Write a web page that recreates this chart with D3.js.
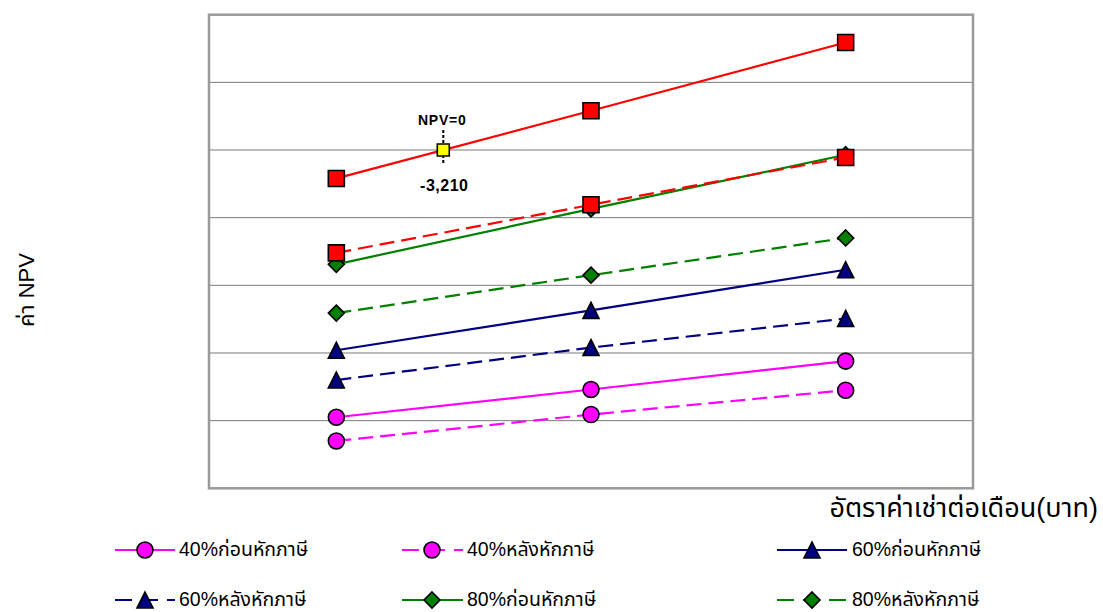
<!DOCTYPE html>
<html>
<head>
<meta charset="utf-8">
<script src="https://cdn.jsdelivr.net/npm/d3@7/dist/d3.min.js"></script>
<style>
  html, body { margin: 0; padding: 0; background: #fff; }
  svg { display: block; }
  text { font-family: "Liberation Sans", Arial, "Noto Sans Thai", Tahoma, sans-serif; }
</style>
</head>
<body>
<svg id="chart" width="1103" height="612"></svg>
<script>
// Monthly rent (baht) for each scenario column
const rents = [3000, 3500, 4000];

// NPV per scenario (million baht), one array per series
const npv40Before = [-3.95, -3.54, -3.12];
const npv40After  = [-4.30, -3.91, -3.55];
const npv60Before = [-2.96, -2.37, -1.77];
const npv60After  = [-3.40, -2.92, -2.49];
const npv80Before = [-1.69, -0.87, -0.07];
const npv80After  = [-2.41, -1.85, -1.30];
const npv100Before = [-0.42, 0.58, 1.59];
const npv100After  = [-1.52, -0.81, -0.11];

// Series names
const seriesNames = [
  "40%ก่อนหักภาษี", "40%หลังหักภาษี",
  "60%ก่อนหักภาษี", "60%หลังหักภาษี",
  "80%ก่อนหักภาษี", "80%หลังหักภาษี",
  "100%ก่อนหักภาษี", "100%หลังหักภาษี"
];
// Number of legend entries that fit on the page (two rows of three)
const legendCount = 6;

// Break-even point (NPV = 0)
const breakEvenRent = 3210;
const breakEvenNpv = 0;
const breakEvenLabel = "NPV=0";
const breakEvenValueLabel = "-3,210";

// Axis titles
const xTitle = "อัตราค่าเช่าต่อเดือน(บาท)";
const yTitle = "ค่า NPV";

// Gridline values on the NPV axis
const yGridValues = [-4, -3, -2, -1, 0, 1];

// ---- styling for each series ----
const seriesValues = [npv40Before, npv40After, npv60Before, npv60After,
                      npv80Before, npv80After, npv100Before, npv100After];
const DASH = "15,7";
const styles = [
  { color: "#FF00FF", dash: null, shape: "circle" },
  { color: "#FF00FF", dash: DASH, shape: "circle" },
  { color: "#000080", dash: null, shape: "triangle" },
  { color: "#000080", dash: DASH, shape: "triangle" },
  { color: "#008000", dash: null, shape: "diamond" },
  { color: "#008000", dash: DASH, shape: "diamond" },
  { color: "#FF0000", dash: null, shape: "square" },
  { color: "#FF0000", dash: DASH, shape: "square" }
];
const series = seriesNames.map((name, i) => ({ name, values: seriesValues[i], ...styles[i] }));

const svg = d3.select("#chart");
const plot = { left: 209, right: 973, top: 14.7, bottom: 488.3 };

const x = d3.scaleLinear().domain([2750, 4250]).range([plot.left, plot.right]);
const y = d3.scaleLinear().domain([-5, 2]).range([plot.bottom, plot.top]);

// Gridlines
svg.append("g").selectAll("line").data(yGridValues).join("line")
  .attr("x1", plot.left).attr("x2", plot.right)
  .attr("y1", d => y(d)).attr("y2", d => y(d))
  .attr("stroke", "#7a7a7a").attr("stroke-width", 1);

// Plot frame
svg.append("rect")
  .attr("x", plot.left).attr("y", plot.top)
  .attr("width", plot.right - plot.left).attr("height", plot.bottom - plot.top)
  .attr("fill", "none").attr("stroke", "#9a9a9a").attr("stroke-width", 2.5);

// Marker path generator
function markerPath(shape, s) {
  const h = s / 2;
  switch (shape) {
    case "square": return `M${-h},${-h}H${h}V${h}H${-h}Z`;
    case "diamond": return `M0,${-h}L${h},0L0,${h}L${-h},0Z`;
    case "triangle": return `M0,${-h}L${h},${h}L${-h},${h}Z`;
    default: return d3.arc()({ innerRadius: 0, outerRadius: h, startAngle: 0, endAngle: 2 * Math.PI });
  }
}
const markerSize = { square: 16, diamond: 16, triangle: 16, circle: 16 };

const line = d3.line().x((d, i) => x(rents[i])).y(d => y(d));

// Lines
svg.append("g").selectAll("path").data(series).join("path")
  .attr("d", d => line(d.values))
  .attr("fill", "none")
  .attr("stroke", d => d.color)
  .attr("stroke-width", 2.2)
  .attr("stroke-dasharray", d => d.dash);

// Markers
const mg = svg.append("g");
series.forEach(s => {
  mg.append("g").selectAll("path").data(s.values).join("path")
    .attr("transform", (d, i) => `translate(${x(rents[i])},${y(d)})`)
    .attr("d", markerPath(s.shape, markerSize[s.shape]))
    .attr("fill", s.color)
    .attr("stroke", "#000").attr("stroke-width", 1.6);
});

// Break-even annotation
const bx = x(breakEvenRent), by = y(breakEvenNpv);
const ann = svg.append("g");
ann.append("line").attr("x1", bx).attr("x2", bx).attr("y1", by - 20).attr("y2", by + 13)
  .attr("stroke", "#000").attr("stroke-width", 2).attr("stroke-dasharray", "3,2");
ann.append("path").attr("transform", `translate(${bx},${by})`)
  .attr("d", markerPath("square", 12)).attr("fill", "#FFFF00")
  .attr("stroke", "#000").attr("stroke-width", 1.6);
ann.append("text").attr("x", bx - 1).attr("y", by - 25)
  .attr("text-anchor", "middle").attr("font-size", 14).attr("font-weight", "bold")
  .attr("letter-spacing", 0.8).text(breakEvenLabel);
ann.append("text").attr("x", bx + 1).attr("y", by + 41)
  .attr("text-anchor", "middle").attr("font-size", 16).attr("font-weight", "bold")
  .attr("letter-spacing", 0.5).text(breakEvenValueLabel);

// Axis titles
svg.append("text").attr("x", 1098).attr("y", 517)
  .attr("text-anchor", "end").attr("font-size", 27).text(xTitle);
svg.append("text").attr("transform", "translate(34,290) rotate(-90)")
  .attr("text-anchor", "middle").attr("font-size", 22).text(yTitle);

// Legend: three columns
const legendCols = [
  { x1: 115, x2: 175, mx: 145, tx: 179 },
  { x1: 402, x2: 463, mx: 432, tx: 467 },
  { x1: 777, x2: 847, mx: 812, tx: 852 }
];
const legendRowY = [550, 600];
const lg = svg.append("g");
series.slice(0, legendCount).forEach((s, i) => {
  const c = legendCols[i % 3], ry = legendRowY[Math.floor(i / 3)];
  const g = lg.append("g");
  g.append("line").attr("x1", c.x1).attr("x2", c.x2).attr("y1", ry).attr("y2", ry)
    .attr("stroke", s.color).attr("stroke-width", 2.2).attr("stroke-dasharray", s.dash ? "17,9" : null);
  g.append("path").attr("transform", `translate(${c.mx},${ry})`)
    .attr("d", markerPath(s.shape, markerSize[s.shape]))
    .attr("fill", s.color).attr("stroke", "#000").attr("stroke-width", 1.6);
  g.append("text").attr("x", c.tx).attr("y", ry + 6).attr("font-size", 19.5).text(s.name);
});
</script>
</body>
</html>
